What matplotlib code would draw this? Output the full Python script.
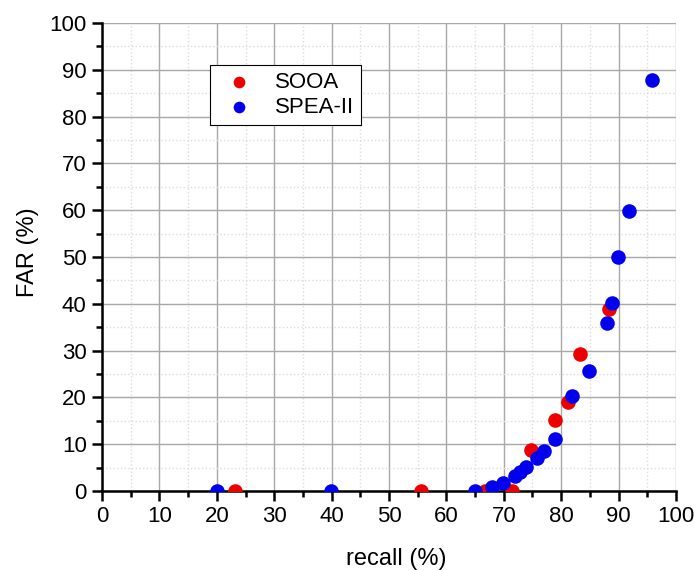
import matplotlib.pyplot as plt
from matplotlib.ticker import MultipleLocator

plt.rcParams['font.family'] = ['Liberation Sans', 'DejaVu Sans']

# SOOA points (recall %, FAR %)
sooa_recall = [23.2, 55.5, 66.7, 71.4, 74.7, 78.9, 81.2, 83.2, 88.4]
sooa_far = [0.0, 0.0, 0.0, 0.0, 8.8, 15.2, 19.0, 29.3, 38.8]

# SPEA-II points
spea_recall = [20.0, 39.9, 64.9, 67.9, 69.8, 71.9, 72.8, 73.9, 75.8, 77.0,
               78.9, 81.9, 84.9, 87.9, 88.9, 89.9, 91.9, 95.9]
spea_far = [0.0, 0.0, 0.0, 0.9, 1.8, 3.3, 4.1, 5.2, 7.1, 8.5,
            11.1, 20.3, 25.7, 36.0, 40.1, 49.9, 59.9, 87.8]

fig = plt.figure(figsize=(6.94, 5.70), dpi=100)
ax = fig.add_axes([0.147, 0.1386, 0.827, 0.821])

ax.scatter(sooa_recall, sooa_far, s=110, color='#ee0000', label='SOOA', zorder=3, linewidths=0)
ax.scatter(spea_recall, spea_far, s=110, color='#0000ee', label='SPEA-II', zorder=3, linewidths=0)

ax.set_xlim(0, 100)
ax.set_ylim(0, 100)
ax.xaxis.set_major_locator(MultipleLocator(10))
ax.xaxis.set_minor_locator(MultipleLocator(5))
ax.yaxis.set_major_locator(MultipleLocator(10))
ax.yaxis.set_minor_locator(MultipleLocator(5))

ax.grid(True, which='major', color='#a8a8a8', linewidth=1.0)
ax.grid(True, which='minor', color='#dcdcdc', linestyle=':', linewidth=1.0)
ax.set_axisbelow(True)

# no grid lines on the top/right limits
for gl in [ax.xaxis.get_gridlines()[-1], ax.yaxis.get_gridlines()[-1]]:
    gl.set_visible(False)

for side in ['top', 'right']:
    ax.spines[side].set_visible(False)
for side in ['left', 'bottom']:
    ax.spines[side].set_linewidth(1.8)

ax.tick_params(which='major', direction='out', length=7, width=1.8, labelsize=16, pad=4)
ax.tick_params(which='minor', direction='out', length=4, width=1.8)

ax.set_xlabel('recall (%)', fontsize=17)
ax.xaxis.set_label_coords(0.512, -0.122)
ax.set_ylabel('FAR (%)', fontsize=17)
ax.yaxis.set_label_coords(-0.109, 0.511)

leg = ax.legend(loc='upper left', bbox_to_anchor=(0.189, 0.910), borderaxespad=0,
                fancybox=False, edgecolor='black', framealpha=1, fontsize=16,
                handletextpad=0.6, borderpad=0.3, labelspacing=0.2, markerscale=0.8)
leg.get_frame().set_linewidth(0.8)

plt.savefig('out.png', dpi=100)
